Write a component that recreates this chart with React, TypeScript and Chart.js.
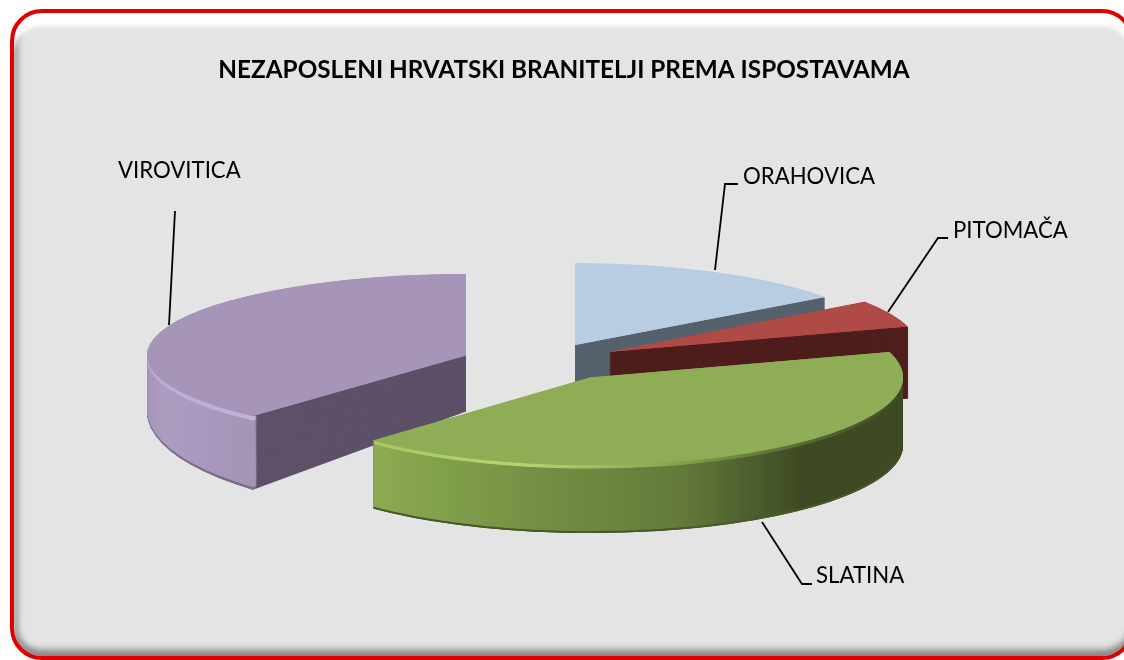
import React, { useEffect, useRef } from "react";
import { Chart, registerables } from "chart.js";

Chart.register(...registerables);

const TITLE = "NEZAPOSLENI HRVATSKI BRANITELJI PREMA ISPOSTAVAMA";
const categories = ["ORAHOVICA", "PITOMAČA", "SLATINA", "VIROVITICA"];
const shares = [15.0, 5.3, 41.9, 37.8];

const FONT = "Lato, 'Open Sans', sans-serif";
const SHIFT_X = -14;

type Stop = [number, string];
type Look = {
  top: string; face: string; rim: Stop[]; glow: Stop[]; edge: string;
  explode: number; radius: number; k0: number; k1: number; lift: number; depth: number;
  flare: number; faceStroke: number;
};

const LOOKS: Look[] = [
  { top: "#B8CCE4", face: "#56626C", rim: [[0, "#56626C"], [1, "#56626C"]], glow: [[0, "#56626C"], [1, "#56626C"]], edge: "#56626C",
    explode: 55, radius: 309, k0: 0.265, k1: 0.265, lift: 0, depth: 60, flare: 0, faceStroke: 0 },
  { top: "#B04A47", face: "#4F1F1E", rim: [[0, "#4F1F1E"], [1, "#4F1F1E"]], glow: [[0, "#4F1F1E"], [1, "#4F1F1E"]], edge: "#4F1F1E",
    explode: 67, radius: 311, k0: 0.28, k1: 0.28, lift: 2, depth: 72, flare: -1, faceStroke: 1.5 },
  { top: "#8FAD54", face: "#3E4A23",
    rim: [[372, "#8DAB52"], [440, "#81A04A"], [560, "#728C43"], [680, "#647A3A"], [770, "#47572B"], [800, "#3E4A23"], [905, "#3E4A23"]],
    glow: [[372, "#A6C765"], [520, "#B4D670"], [650, "#8FAD54"], [780, "#5E7335"], [905, "#3E4A23"]], edge: "#4A5A2A",
    explode: 77, radius: 313, k0: 0.28, k1: 0.28, lift: 1, depth: 68, flare: 0, faceStroke: 0 },
  { top: "#A695B8", face: "#5E5168",
    rim: [[147, "#A594B8"], [165, "#AC9CC0"], [210, "#A897BC"], [255, "#A494B6"]],
    glow: [[147, "#BBAAD4"], [255, "#C1B1DC"]], edge: "#7D6E8E",
    explode: 90.6, radius: 319, k0: 0.255, k1: 0.33, lift: 6, depth: 56, flare: 2, faceStroke: 0 },
];
const DRAW_ORDER = [0, 3, 1, 2];

type Callout = { text: string; path: [number, number][]; tx: number; ty: number };
const CALLOUTS: Callout[] = [
  { text: "ORAHOVICA", path: [[715, 270], [725, 184], [738, 184]], tx: 743, ty: 177 },
  { text: "PITOMAČA", path: [[888, 312], [938, 238], [948, 238]], tx: 953, ty: 231 },
  { text: "SLATINA", path: [[762, 522], [802, 584], [812, 584]], tx: 816, ty: 576 },
  { text: "VIROVITICA", path: [[169, 325], [175, 211]], tx: 118, ty: 171 },
];

function gradient(ctx: CanvasRenderingContext2D, stops: Stop[], shift: number) {
  const first = stops[0][0];
  const last = stops[stops.length - 1][0];
  if (last <= 1) return stops[0][1];
  const g = ctx.createLinearGradient(first - shift, 0, last - shift, 0);
  stops.forEach(([x, c]) => g.addColorStop((x - first) / (last - first), c));
  return g;
}

const pie3d = {
  id: "pie3d",
  beforeDatasetsDraw(chart: any) {
    const ctx: CanvasRenderingContext2D = chart.ctx;
    const arcs = chart.getDatasetMeta(0).data;
    DRAW_ORDER.forEach((i) => {
      const arc = arcs[i];
      const look = LOOKS[i];
      const mid = (arc.startAngle + arc.endAngle) / 2;
      const apexX = Math.round(arc.x + SHIFT_X + Math.cos(mid) * look.explode);
      const ex = apexX - arc.x;
      const clone = Object.create(arc);
      clone.outerRadius = look.radius;
      clone.startAngle = arc.startAngle - (look.flare * Math.PI) / 180;
      clone.circumference = arc.circumference + (look.flare * Math.PI) / 180;
      const paint = (fill: any, t: number, inner: number, stroke = 0) => {
        const k = look.k0 + (look.k1 - look.k0) * t;
        const ey = Math.sin(mid) * look.explode * look.k0 + look.lift;
        ctx.save();
        ctx.translate(apexX, arc.y + ey + look.depth * t);
        ctx.scale(1, k);
        ctx.translate(-arc.x, -arc.y);
        clone.innerRadius = inner;
        clone.options = {
          ...arc.options, backgroundColor: fill, borderColor: fill, borderWidth: stroke,
          borderAlign: "center", offset: 0, spacing: 0,
        };
        clone.draw(ctx);
        ctx.restore();
      };
      const rim = gradient(ctx, look.rim, ex);
      const glow = gradient(ctx, look.glow, ex);
      for (let d = look.depth; d >= 1; d -= 0.5) paint(look.face, d / look.depth, 0, look.faceStroke);
      const ringIn = look.radius - 6;
      for (let d = look.depth; d >= 1; d -= 0.5) {
        const fill = d > look.depth - 2 ? look.edge : d < 4 ? glow : rim;
        paint(fill, d / look.depth, ringIn);
      }
      paint(look.top, 0, 0);
      paint(look.top, 0, 0);
    });
    return false;
  },
  afterDraw(chart: any) {
    const ctx: CanvasRenderingContext2D = chart.ctx;
    ctx.save();
    ctx.strokeStyle = "#000";
    ctx.lineWidth = 1.8;
    ctx.fillStyle = "#000";
    ctx.font = `22.2px ${FONT}`;
    ctx.textBaseline = "middle";
    CALLOUTS.forEach((c) => {
      ctx.beginPath();
      c.path.forEach(([x, y], j) => (j ? ctx.lineTo(x, y) : ctx.moveTo(x, y)));
      ctx.stroke();
      ctx.fillText(c.text, c.tx, c.ty);
    });
    ctx.restore();
  },
};

export default function App() {
  const ref = useRef<HTMLCanvasElement>(null);
  useEffect(() => {
    document.body.style.margin = "0";
    const chart = new Chart(ref.current!, {
      type: "pie",
      data: {
        labels: categories,
        datasets: [{ data: shares, backgroundColor: LOOKS.map((l) => l.top), borderWidth: 0 }],
      },
      options: {
        responsive: false,
        animation: false,
        radius: 300,
        layout: { padding: { left: 4, right: 0, bottom: 29 } },
        plugins: {
          legend: { display: false },
          tooltip: { enabled: false },
          title: {
            display: true,
            text: TITLE,
            color: "#000",
            font: { family: FONT, size: 24.3, weight: "bold" },
            padding: { top: 56, bottom: 0 },
          },
        },
      } as any,
      plugins: [pie3d as any],
    });
    return () => chart.destroy();
  }, []);
  return (
    <div style={{ position: "fixed", left: 0, top: 0, width: 1124, height: 660, overflow: "hidden", background: "#fff" }}>
      <div
        style={{
          position: "absolute", left: 10, top: 9, width: 1124, height: 651, boxSizing: "border-box",
          border: "4px solid #E00000", borderRadius: 32, background: "#E4E4E4", overflow: "hidden",
          boxShadow: "inset 0 14px 4px -1px #fff, inset 7px 0 6px -3px #9a9a9a, inset 0 -9px 7px -3px #808080",
        }}
      />
      <canvas ref={ref} width={1124} height={660} style={{ position: "absolute", left: 0, top: 0 }} />
    </div>
  );
}
